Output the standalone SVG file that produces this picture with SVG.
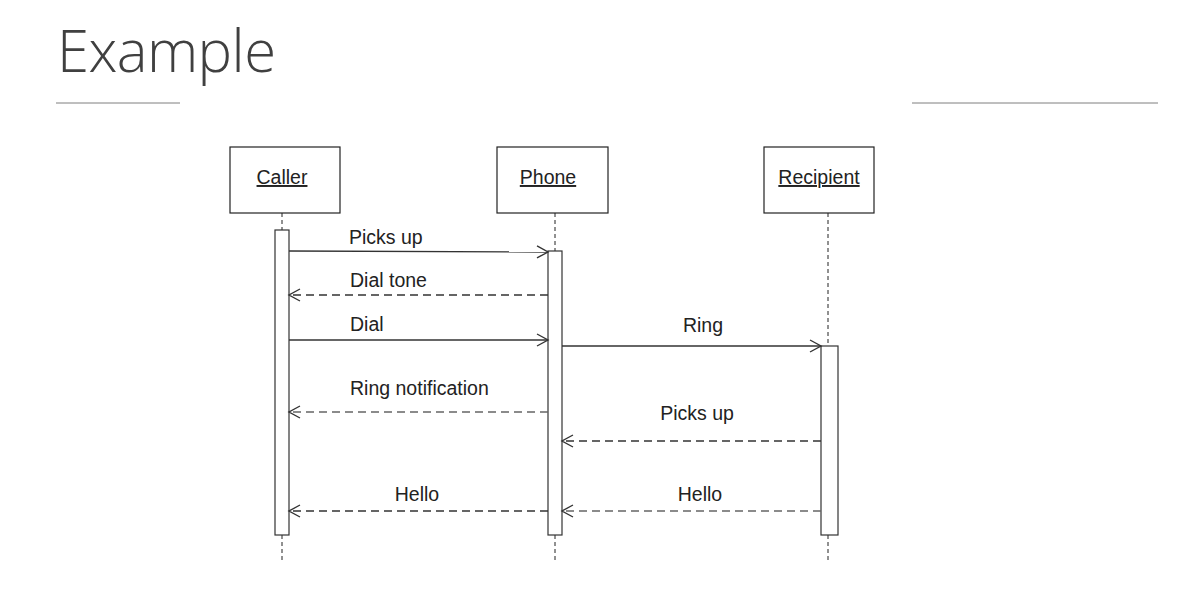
<svg xmlns="http://www.w3.org/2000/svg" width="1196" height="596" viewBox="0 0 1196 596">
<style>
.box{fill:#fff;stroke:#222;stroke-width:1.2}
.act{fill:#fff;stroke:#333;stroke-width:1.2}
.life{stroke:#222;stroke-width:1;stroke-dasharray:4,3}
.msg{stroke:#333;stroke-width:1.4;fill:none}
.dash{stroke-dasharray:8,5}
.grey{stroke:#666}
.lbl{font-family:"Liberation Sans",Arial,sans-serif;font-size:19.5px;fill:#222}
.name{font-family:"Liberation Sans",Arial,sans-serif;font-size:19.5px;fill:#222;text-decoration:underline;text-anchor:middle}
.rule{stroke:#7f7f7f;stroke-width:1}
</style>
<defs>
<marker id="ah" markerWidth="14" markerHeight="14" refX="12" refY="7" orient="auto" markerUnits="userSpaceOnUse">
<path d="M1,1 L12,7 L1,13" fill="none" stroke="#333" stroke-width="1.4"/>
</marker>
</defs>
<rect width="1196" height="596" fill="#fff"/>
<text x="57" y="72" font-family="'Open Sans',sans-serif" font-weight="300" font-size="58" fill="#404040" textLength="219">Example</text>
<line class="rule" x1="56" y1="103" x2="180" y2="103"/>
<line class="rule" x1="912" y1="103" x2="1158" y2="103"/>

<g id="caller">
<line class="life" x1="282" y1="213" x2="282" y2="562"/>
<rect class="box" x="230" y="147" width="110" height="66"/>
<text class="name" x="282" y="184">Caller</text>
<rect class="act" x="275" y="230" width="14" height="305"/>
</g>
<g id="phone">
<line class="life" x1="555" y1="213" x2="555" y2="562"/>
<rect class="box" x="497" y="147" width="111" height="66"/>
<text class="name" x="548" y="184">Phone</text>
<rect class="act" x="548" y="251" width="14" height="284"/>
</g>
<g id="recipient">
<line class="life" x1="828" y1="213" x2="828" y2="562"/>
<rect class="box" x="764" y="147" width="110" height="66"/>
<text class="name" x="819" y="184">Recipient</text>
<rect class="act" x="821" y="346" width="17" height="189"/>
</g>

<g id="connectors">
<line class="msg" x1="289" y1="251" x2="548" y2="252" marker-end="url(#ah)"/>
<line class="msg dash" x1="548" y1="295" x2="289" y2="295" marker-end="url(#ah)"/>
<line class="msg" x1="289" y1="340" x2="548" y2="340" marker-end="url(#ah)"/>
<line class="msg" x1="562" y1="346" x2="821" y2="346" marker-end="url(#ah)"/>
<line class="msg dash grey" x1="548" y1="412" x2="289" y2="412" marker-end="url(#ah)"/>
<line class="msg dash" x1="821" y1="441" x2="562" y2="441" marker-end="url(#ah)"/>
<line class="msg dash" x1="548" y1="511" x2="289" y2="511" marker-end="url(#ah)"/>
<line class="msg dash grey" x1="821" y1="511" x2="562" y2="511" marker-end="url(#ah)"/>
<text class="lbl" x="349" y="244">Picks up</text>
<text class="lbl" x="350" y="287">Dial tone</text>
<text class="lbl" x="350" y="331">Dial</text>
<text class="lbl" x="703" y="332" text-anchor="middle">Ring</text>
<text class="lbl" x="350" y="395">Ring notification</text>
<text class="lbl" x="697" y="420" text-anchor="middle">Picks up</text>
<text class="lbl" x="417" y="501" text-anchor="middle">Hello</text>
<text class="lbl" x="700" y="501" text-anchor="middle">Hello</text>
</g>
</svg>
